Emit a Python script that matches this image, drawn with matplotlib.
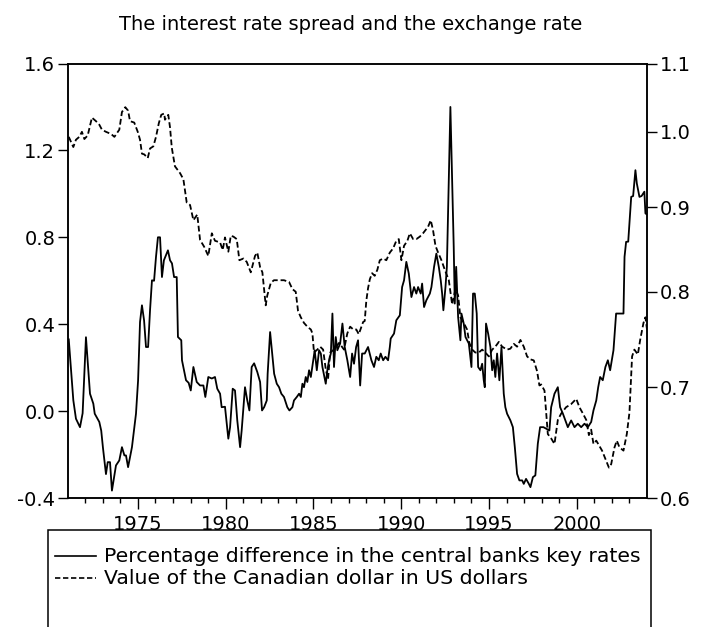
import matplotlib.pyplot as plt
from matplotlib.ticker import FixedLocator, NullLocator, FormatStrFormatter
from matplotlib.patches import Rectangle
from matplotlib.lines import Line2D

plt.rcParams['font.family'] = ['DejaVu Sans']

# Spread between the two central banks' key rates (left axis, percent)
spread_years = [
    1971.06, 1971.32, 1971.47, 1971.70, 1971.85, 1972.04, 1972.27, 1972.46, 1972.54, 1972.80,
    1972.91, 1973.01, 1973.18, 1973.28, 1973.41, 1973.52, 1973.75, 1973.94, 1974.09, 1974.23,
    1974.32, 1974.44, 1974.66, 1974.89, 1975.01, 1975.12, 1975.23, 1975.35, 1975.46, 1975.58,
    1975.69, 1975.80, 1975.92, 1976.03, 1976.14, 1976.26, 1976.37, 1976.48, 1976.71, 1976.83,
    1976.94, 1977.06, 1977.21, 1977.28, 1977.47, 1977.51, 1977.74, 1977.89, 1978.01, 1978.16,
    1978.35, 1978.54, 1978.73, 1978.84, 1979.01, 1979.21, 1979.39, 1979.52, 1979.68, 1979.77,
    1979.96, 1980.15, 1980.25, 1980.40, 1980.53, 1980.66, 1980.82, 1980.91, 1981.10, 1981.23,
    1981.35, 1981.48, 1981.62, 1981.80, 1981.96, 1982.07, 1982.19, 1982.34, 1982.39, 1982.53,
    1982.76, 1982.91, 1983.04, 1983.17, 1983.32, 1983.51, 1983.63, 1983.80, 1983.89, 1984.05,
    1984.18, 1984.28, 1984.37, 1984.46, 1984.56, 1984.65, 1984.75, 1984.85, 1984.99, 1985.07,
    1985.19, 1985.32, 1985.42, 1985.51, 1985.70, 1985.79, 1985.89, 1985.99, 1986.08, 1986.17,
    1986.27, 1986.36, 1986.52, 1986.65, 1986.78, 1986.93, 1987.09, 1987.20, 1987.31, 1987.43,
    1987.54, 1987.66, 1987.77, 1987.92, 1988.11, 1988.30, 1988.45, 1988.58, 1988.72, 1988.83,
    1988.97, 1989.10, 1989.25, 1989.35, 1989.40, 1989.59, 1989.72, 1989.92, 1990.05, 1990.16,
    1990.29, 1990.43, 1990.58, 1990.73, 1990.86, 1990.96, 1991.11, 1991.19, 1991.30, 1991.43,
    1991.63, 1991.72, 1991.87, 1992.00, 1992.14, 1992.25, 1992.33, 1992.40, 1992.52, 1992.60,
    1992.80, 1992.99, 1993.05, 1993.13, 1993.24, 1993.37, 1993.43, 1993.56, 1993.66, 1993.85,
    1994.00, 1994.09, 1994.19, 1994.30, 1994.38, 1994.51, 1994.61, 1994.70, 1994.76, 1994.83,
    1994.95, 1995.08, 1995.18, 1995.27, 1995.36, 1995.46, 1995.59, 1995.71, 1995.84, 1995.93,
    1996.03, 1996.22, 1996.36, 1996.47, 1996.60, 1996.73, 1996.89, 1996.98, 1997.11, 1997.27,
    1997.36, 1997.50, 1997.64, 1997.78, 1997.91, 1998.10, 1998.44, 1998.54, 1998.73, 1998.92,
    1999.05, 1999.21, 1999.35, 1999.49, 1999.68, 1999.87, 2000.06, 2000.25, 2000.44, 2000.63,
    2000.82, 2000.95, 2001.11, 2001.22, 2001.33, 2001.48, 2001.63, 2001.77, 2001.90, 2002.09,
    2002.24, 2002.43, 2002.66, 2002.72, 2002.81, 2002.93, 2003.10, 2003.21, 2003.34, 2003.42,
    2003.57, 2003.69, 2003.85, 2003.91, 2004.00,
]
spread = [
    0.33, 0.05, -0.035, -0.074, -0.01, 0.34, 0.08, 0.034, -0.012, -0.05,
    -0.09, -0.17, -0.29, -0.235, -0.235, -0.366, -0.25, -0.227, -0.166, -0.204,
    -0.204, -0.258, -0.166, -0.012, 0.142, 0.41, 0.487, 0.418, 0.295, 0.295,
    0.464, 0.602, 0.60, 0.71, 0.80, 0.80, 0.617, 0.694, 0.74, 0.694,
    0.68, 0.617, 0.617, 0.341, 0.326, 0.234, 0.142, 0.13, 0.095, 0.203,
    0.134, 0.118, 0.118, 0.065, 0.157, 0.15, 0.157, 0.103, 0.08, 0.018,
    0.02, -0.127, -0.074, 0.103, 0.095, -0.043, -0.166, -0.089, 0.11, 0.049,
    0.003, 0.203, 0.22, 0.18, 0.134, 0.003, 0.018, 0.049, 0.172, 0.364,
    0.172, 0.126, 0.11, 0.08, 0.065, 0.018, 0.003, 0.018, 0.049, 0.065,
    0.08, 0.065, 0.126, 0.11, 0.157, 0.134, 0.188, 0.157, 0.234, 0.28,
    0.188, 0.28, 0.265, 0.203, 0.126, 0.188, 0.234, 0.265, 0.449, 0.203,
    0.341, 0.28, 0.311, 0.403, 0.295, 0.234, 0.157, 0.265, 0.218, 0.295,
    0.326, 0.118, 0.265, 0.265, 0.295, 0.234, 0.203, 0.25, 0.234, 0.265,
    0.234, 0.25, 0.234, 0.295, 0.334, 0.357, 0.418, 0.441, 0.571, 0.602,
    0.687, 0.633, 0.525, 0.571, 0.541, 0.571, 0.541, 0.587, 0.479, 0.51,
    0.541, 0.571, 0.664, 0.725, 0.664, 0.602, 0.541, 0.464, 0.571, 0.664,
    1.40, 0.756, 0.495, 0.664, 0.433, 0.326, 0.449, 0.403, 0.341, 0.311,
    0.203, 0.541, 0.541, 0.449, 0.203, 0.188, 0.218, 0.142, 0.11, 0.403,
    0.357, 0.295, 0.188, 0.234, 0.157, 0.265, 0.142, 0.295, 0.08, 0.018,
    -0.012, -0.043, -0.074, -0.166, -0.289, -0.319, -0.319, -0.335, -0.312, -0.335,
    -0.35, -0.304, -0.296, -0.15, -0.074, -0.074, -0.089, 0.018, 0.08, 0.11,
    0.018, -0.012, -0.043, -0.074, -0.043, -0.074, -0.058, -0.074, -0.058, -0.074,
    -0.05, 0.003, 0.049, 0.11, 0.157, 0.142, 0.203, 0.234, 0.188, 0.28,
    0.449, 0.449, 0.449, 0.71, 0.779, 0.78, 0.986, 0.99, 1.109, 1.048,
    0.986, 0.99, 1.01, 0.91, 0.905,
]

# Canadian dollar in US dollars (right axis, log scale)
cad_years = [
    1971.06, 1971.32, 1971.47, 1971.66, 1971.81, 1971.95, 1972.14, 1972.38, 1972.61, 1972.80,
    1972.95, 1973.18, 1973.47, 1973.66, 1973.94, 1974.09, 1974.28, 1974.44, 1974.55, 1974.79,
    1974.99, 1975.12, 1975.23, 1975.36, 1975.56, 1975.69, 1975.88, 1976.03, 1976.19, 1976.33,
    1976.50, 1976.54, 1976.73, 1976.83, 1976.93, 1977.11, 1977.40, 1977.59, 1977.78, 1977.97,
    1978.16, 1978.38, 1978.54, 1978.77, 1979.01, 1979.21, 1979.39, 1979.68, 1979.83, 1979.96,
    1980.15, 1980.29, 1980.44, 1980.63, 1980.78, 1981.01, 1981.20, 1981.43, 1981.67, 1981.80,
    1981.96, 1982.09, 1982.28, 1982.37, 1982.57, 1982.75, 1983.04, 1983.32, 1983.61, 1983.80,
    1983.99, 1984.12, 1984.28, 1984.46, 1984.65, 1984.85, 1984.94, 1985.03, 1985.22, 1985.38,
    1985.55, 1985.70, 1985.83, 1985.95, 1986.17, 1986.46, 1986.74, 1986.93, 1987.09, 1987.27,
    1987.44, 1987.58, 1987.83, 1987.92, 1988.01, 1988.11, 1988.21, 1988.34, 1988.49, 1988.64,
    1988.78, 1988.97, 1989.15, 1989.35, 1989.54, 1989.72, 1989.86, 1990.01, 1990.16, 1990.35,
    1990.49, 1990.68, 1990.86, 1991.06, 1991.24, 1991.53, 1991.68, 1991.81, 1991.95, 1992.10,
    1992.29, 1992.48, 1992.71, 1992.90, 1993.09, 1993.24, 1993.37, 1993.56, 1993.75, 1993.88,
    1994.04, 1994.22, 1994.42, 1994.61, 1994.79, 1994.99, 1995.18, 1995.36, 1995.56, 1995.75,
    1996.03, 1996.22, 1996.41, 1996.60, 1996.79, 1996.98, 1997.17, 1997.36, 1997.55, 1997.74,
    1997.87, 1997.97, 1998.16, 1998.35, 1998.54, 1998.73, 1998.92, 1999.11, 1999.39, 1999.68,
    1999.97, 2000.15, 2000.35, 2000.54, 2000.69, 2000.82, 2000.95, 2001.11, 2001.29, 2001.44,
    2001.67, 2001.83, 2001.96, 2002.15, 2002.28, 2002.43, 2002.66, 2002.85, 2003.00, 2003.15,
    2003.28, 2003.48, 2003.61, 2003.80, 2003.91, 2004.00,
]
cad_usd = [
    0.993, 0.979, 0.989, 0.993, 1.0, 0.99, 0.995, 1.02, 1.015, 1.01,
    1.003, 1.0, 0.997, 0.993, 1.003, 1.028, 1.035, 1.03, 1.015, 1.013,
    1.0, 0.989, 0.970, 0.969, 0.964, 0.977, 0.98, 0.993, 1.012, 1.024,
    1.026, 1.017, 1.024, 1.006, 0.978, 0.953, 0.944, 0.936, 0.906, 0.903,
    0.884, 0.891, 0.860, 0.852, 0.841, 0.868, 0.859, 0.857, 0.848, 0.863,
    0.846, 0.865, 0.864, 0.861, 0.836, 0.838, 0.834, 0.822, 0.841, 0.845,
    0.828, 0.822, 0.785, 0.796, 0.81, 0.813, 0.813, 0.813, 0.811, 0.803,
    0.80, 0.779, 0.772, 0.766, 0.762, 0.759, 0.755, 0.735, 0.738, 0.741,
    0.738, 0.718, 0.708, 0.735, 0.738, 0.745, 0.738, 0.755, 0.762, 0.759,
    0.759, 0.754, 0.767, 0.768, 0.79, 0.804, 0.814, 0.821, 0.818, 0.825,
    0.836, 0.838, 0.836, 0.845, 0.85, 0.859, 0.861, 0.836, 0.853, 0.859,
    0.868, 0.861, 0.861, 0.864, 0.868, 0.876, 0.884, 0.872, 0.853, 0.845,
    0.836, 0.825, 0.813, 0.786, 0.803, 0.796, 0.772, 0.766, 0.759, 0.745,
    0.738, 0.735, 0.735, 0.738, 0.735, 0.731, 0.738, 0.741, 0.746, 0.741,
    0.738, 0.739, 0.744, 0.741, 0.748, 0.741, 0.731, 0.728, 0.727, 0.716,
    0.702, 0.703, 0.697, 0.656, 0.652, 0.647, 0.669, 0.675, 0.681, 0.684,
    0.689, 0.681, 0.675, 0.669, 0.655, 0.66, 0.647, 0.65, 0.645, 0.641,
    0.632, 0.626, 0.629, 0.644, 0.65, 0.644, 0.641, 0.656, 0.676, 0.731,
    0.738, 0.733, 0.748, 0.766, 0.772, 0.759,
]

left_ticks = [-0.4, 0.0, 0.4, 0.8, 1.2, 1.6]
right_ticks = [0.6, 0.7, 0.8, 0.9, 1.0, 1.1]
year_ticks = [1975, 1980, 1985, 1990, 1995, 2000]
minor_years = list(range(1972, 2004))

title = 'The interest rate spread and the exchange rate'
spread_label = 'Percentage difference in the central banks key rates'
cad_label = 'Value of the Canadian dollar in US dollars'

W, H = 703, 627
fig = plt.figure(figsize=(W / 100, H / 100), dpi=100)
ax = fig.add_axes([67.7 / W, 1 - 498 / H, (647 - 67.7) / W, (498 - 63.5) / H])

dash = (0, (3.2, 1.6))
ax.plot(spread_years, spread, color='black', lw=1.3)
ax.set_xlim(1971, 2004)
ax.set_ylim(-0.4, 1.6)
ax.set_yticks(left_ticks)
ax.yaxis.set_major_formatter(FormatStrFormatter('%.1f'))
ax.set_xticks(year_ticks)
ax.set_xticks(minor_years, minor=True)
ax.tick_params(axis='x', which='major', direction='out', length=8, width=1, labelsize=14, pad=4)
ax.tick_params(axis='x', which='minor', direction='out', length=3.5, width=1)
ax.tick_params(axis='y', which='major', direction='out', length=7, width=1, labelsize=14, pad=2)

ax2 = ax.twinx()
ax2.plot(cad_years, cad_usd, color='black', lw=1.3, ls=dash)
ax2.set_yscale('log')
ax2.set_ylim(0.6, 1.1)
ax2.yaxis.set_major_locator(FixedLocator(right_ticks))
ax2.yaxis.set_minor_locator(NullLocator())
ax2.yaxis.set_major_formatter(FormatStrFormatter('%.1f'))
ax2.tick_params(axis='y', which='major', direction='out', length=7, width=1, labelsize=14, pad=2)

for a in (ax, ax2):
    for s in a.spines.values():
        s.set_linewidth(1.1)

fig.text(351 / W, 1 - 25 / H, title, ha='center', va='center', fontsize=14)

# legend box runs off the bottom of the figure
fig.patches.append(Rectangle((48 / W, -0.05), (651 - 48) / W, 0.05 + 1 - 530 / H,
                             transform=fig.transFigure, fill=False, lw=1.1, ec='black'))
for yy, lab, ls in [(556, spread_label, '-'), (578, cad_label, dash)]:
    fy = 1 - yy / H
    fig.lines.append(Line2D([55 / W, 96 / W], [fy, fy], transform=fig.transFigure,
                            color='black', lw=1.2, ls=ls))
    fig.text(104 / W, fy, lab, ha='left', va='center', fontsize=14.7)

fig.savefig('out.png', dpi=100)
